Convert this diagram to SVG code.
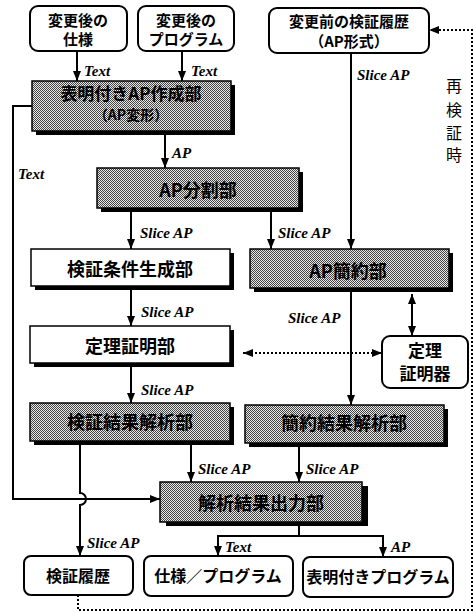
<svg xmlns="http://www.w3.org/2000/svg" width="476" height="612" viewBox="0 0 476 612">
<defs>
<pattern id="dots" patternUnits="userSpaceOnUse" width="2" height="2">
<rect width="2" height="2" fill="#e8e8e8"/>
<rect width="1" height="1" fill="#444"/>
<rect x="1" y="1" width="1" height="1" fill="#444"/>
</pattern>
<marker id="arr" markerUnits="userSpaceOnUse" markerWidth="10" markerHeight="8" refX="10" refY="4" orient="auto-start-reverse">
<path d="M0,0 L10,4 L0,8 z" fill="#000"/>
</marker>
</defs>
<style>
.shadow{fill:#000}
.shade{fill:url(#dots);stroke:#000;stroke-width:1.5}
.plain{fill:#fff;stroke:#000;stroke-width:1.5}
.rbox{fill:#fff;stroke:#000;stroke-width:2}
.jp{font-family:"Noto Sans CJK JP","Noto Sans CJK SC",sans-serif;font-weight:bold;text-anchor:middle;fill:#000}
.f18{font-size:18px}
.f17{font-size:17px}
.f16{font-size:16px}
.f15{font-size:15px}
.f14{font-size:14px}
.lbl{font-family:"Liberation Serif",serif;font-style:italic;font-weight:bold;font-size:15px;fill:#000}
.line{stroke:#000;stroke-width:2;fill:none}
.dash{stroke:#000;stroke-width:2;stroke-dasharray:2 2;fill:none}
.vt{font-family:"Noto Sans CJK JP",sans-serif;font-size:16px;text-anchor:middle;fill:#000}
</style>

<g id="connectors">
<path class="line" d="M77,51 V81" marker-end="url(#arr)"/>
<text class="lbl" x="84" y="76">Text</text>
<path class="line" d="M182,51 V81" marker-end="url(#arr)"/>
<text class="lbl" x="191" y="76">Text</text>
<path class="line" d="M165,135 V168" marker-end="url(#arr)"/>
<text class="lbl" x="172" y="158">AP</text>
<path class="line" d="M351,53 V249" marker-end="url(#arr)"/>
<text class="lbl" x="357" y="80">Slice AP</text>
<path class="line" d="M131,212 V249" marker-end="url(#arr)"/>
<text class="lbl" x="140" y="238">Slice AP</text>
<path class="line" d="M271,212 V249" marker-end="url(#arr)"/>
<text class="lbl" x="278" y="238">Slice AP</text>
<path class="line" d="M131,290 V326" marker-end="url(#arr)"/>
<text class="lbl" x="141" y="317">Slice AP</text>
<path class="line" d="M131,367 V403" marker-end="url(#arr)"/>
<text class="lbl" x="141" y="395">Slice AP</text>
<path class="line" d="M351,292 V405" marker-end="url(#arr)"/>
<text class="lbl" x="288" y="323">Slice AP</text>
<path class="line" d="M412,294 V336" marker-start="url(#arr)" marker-end="url(#arr)"/>
<path class="dash" d="M243,353 H382" marker-start="url(#arr)" marker-end="url(#arr)"/>
<path class="line" d="M32,106 H13 V499 H160" marker-end="url(#arr)"/>
<text class="lbl" x="18" y="179">Text</text>
<path class="line" d="M80,445 V493 A6,6 0 0 1 80,505 V556" marker-end="url(#arr)"/>
<text class="lbl" x="87" y="548">Slice AP</text>
<path class="line" d="M191,445 V482" marker-end="url(#arr)"/>
<text class="lbl" x="198" y="474">Slice AP</text>
<path class="line" d="M299,447 V482" marker-end="url(#arr)"/>
<text class="lbl" x="306" y="474">Slice AP</text>
<path class="line" d="M299,526 V536"/>
<path class="line" d="M299,536 H218 V556" marker-end="url(#arr)"/>
<path class="line" d="M299,536 H383 V557" marker-end="url(#arr)"/>
<text class="lbl" x="225" y="552">Text</text>
<text class="lbl" x="391" y="552">AP</text>
<path class="dash" d="M78,595 V610 H472 V30 H429" marker-end="url(#arr)"/>
<text class="vt" x="454" y="92">再</text>
<text class="vt" x="454" y="116">検</text>
<text class="vt" x="454" y="139">証</text>
<text class="vt" x="454" y="161">時</text>
</g>

<g id="spec-after">
<rect class="rbox" x="30" y="6" width="97" height="45" rx="8"/>
<text class="jp f15" x="78" y="26">変更後の</text>
<text class="jp f15" x="78" y="45">仕様</text>
</g>
<g id="prog-after">
<rect class="rbox" x="138" y="6" width="96" height="45" rx="8"/>
<text class="jp f15" x="186" y="26">変更後の</text>
<text class="jp f15" x="186" y="45">プログラム</text>
</g>
<g id="history-before">
<rect class="rbox" x="269" y="8" width="160" height="45" rx="8"/>
<text class="jp f15" x="349" y="27">変更前の検証履歴</text>
<text class="jp f15" x="349" y="47">（AP形式）</text>
</g>
<g id="ap-creator">
<rect class="shadow" x="36" y="85" width="199" height="50"/>
<rect class="shade" x="32" y="81" width="199" height="50"/>
<text class="jp f17" x="131" y="100">表明付きAP作成部</text>
<text class="jp f14" x="131" y="120">（AP変形）</text>
</g>
<g id="ap-split">
<rect class="shadow" x="101" y="172" width="202" height="40"/>
<rect class="shade" x="97" y="168" width="202" height="40"/>
<text class="jp f18" x="198" y="197">AP分割部</text>
</g>
<g id="vc-gen">
<rect class="shadow" x="35" y="253" width="199" height="37"/>
<rect class="plain" x="31" y="249" width="199" height="37"/>
<text class="jp f18" x="130" y="276">検証条件生成部</text>
</g>
<g id="ap-reduce">
<rect class="shadow" x="254" y="253" width="199" height="39"/>
<rect class="shade" x="250" y="249" width="199" height="39"/>
<text class="jp f18" x="348" y="278">AP簡約部</text>
</g>
<g id="prover-part">
<rect class="shadow" x="34" y="330" width="200" height="37"/>
<rect class="plain" x="30" y="326" width="200" height="37"/>
<text class="jp f18" x="130" y="353">定理証明部</text>
</g>
<g id="prover">
<rect class="rbox" x="382" y="336" width="86" height="52" rx="8"/>
<text class="jp f17" x="425" y="357">定理</text>
<text class="jp f17" x="425" y="380">証明器</text>
</g>
<g id="verify-analysis">
<rect class="shadow" x="34" y="407" width="200" height="38"/>
<rect class="shade" x="30" y="403" width="200" height="38"/>
<text class="jp f18" x="130" y="429">検証結果解析部</text>
</g>
<g id="reduce-analysis">
<rect class="shadow" x="249" y="409" width="199" height="38"/>
<rect class="shade" x="245" y="405" width="199" height="38"/>
<text class="jp f18" x="344" y="430">簡約結果解析部</text>
</g>
<g id="output">
<rect class="shadow" x="166" y="486" width="202" height="40"/>
<rect class="shade" x="160" y="482" width="202" height="40"/>
<text class="jp f18" x="261" y="510">解析結果出力部</text>
</g>
<g id="history">
<rect class="rbox" x="24" y="556" width="109" height="39" rx="7"/>
<text class="jp f16" x="78" y="582">検証履歴</text>
</g>
<g id="spec-prog">
<rect class="rbox" x="144" y="556" width="149" height="40" rx="7"/>
<text class="jp f16" x="218" y="582">仕様／プログラム</text>
</g>
<g id="annotated-prog">
<rect class="rbox" x="303" y="557" width="150" height="40" rx="7"/>
<text class="jp f16" x="378" y="583">表明付きプログラム</text>
</g>
</svg>
